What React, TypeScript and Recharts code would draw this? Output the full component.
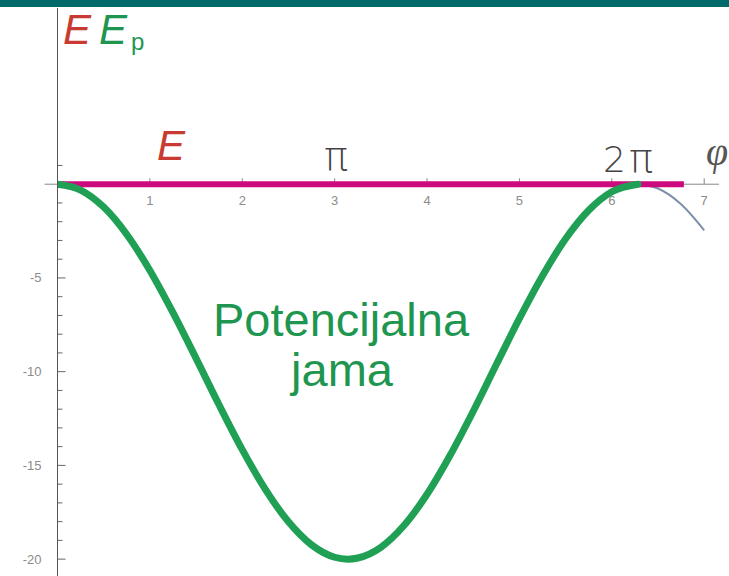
import React from "react";
import { ComposedChart, Line, XAxis, YAxis, ReferenceLine, ReferenceDot } from "recharts";

// Angle φ (radians) and the potential energy Ep along the well
const phi = [0, 0.25, 0.5, 0.75, 1.0, 1.25, 1.5, 1.75, 2.0, 2.25, 2.5, 2.75, 3.0, 3.1416, 3.25, 3.5, 3.75, 4.0, 4.25, 4.5, 4.75, 5.0, 5.25, 5.5, 5.75, 6.0, 6.2832];
const potential = [0, -0.31, -1.22, -2.68, -4.6, -6.85, -9.29, -11.78, -14.16, -16.28, -18.01, -19.24, -19.9, -20, -19.94, -19.37, -18.21, -16.54, -14.46, -12.11, -9.62, -7.16, -4.88, -2.91, -1.39, -0.4, 0];

// Continuation of the curve past 2π (thin)
const tailPhi = [6.2832, 6.5, 6.75, 7.0];
const tailValues = [0, -0.23, -1.07, -2.46];

// Total energy E (horizontal line)
const energyPhi = [0, 6.78];
const energyValues = [0, 0];

// Axis ticks
const xTicks = [1, 2, 3, 4, 5, 6, 7];
const yLabelTicks = [-20, -15, -10, -5];
const yMinorTicks = [-19, -18, -17, -16, -14, -13, -12, -11, -9, -8, -7, -6, -4, -3, -2, -1, 1];

const toPoints = (xs: number[], ys: number[]) => xs.map((x, i) => ({ x, y: ys[i] }));

const wellData = toPoints(phi, potential);
const tailData = toPoints(tailPhi, tailValues);
const energyData = toPoints(energyPhi, energyValues);

const W = 729;
const H = 576;
const GREEN = "#1fa055";
const GREEN_TEXT = "#1e9650";
const MAGENTA = "#cc0a7e";
const RED = "#c83a32";
const TICK = "#8c8c8c";
const SANS = "Liberation Sans, Arial, sans-serif";
const LIGHT = "DejaVu Sans ExtraLight, DejaVu Sans, sans-serif";

const YTick = (props: any) => {
  const { x, y, payload } = props;
  return (
    <text x={x} y={y} dy={4.5} textAnchor="end" fill={TICK} fontSize={13} fontFamily={SANS}>
      {`-${Math.abs(payload.value)}`}
    </text>
  );
};

export default function App() {
  return (
    <div style={{ position: "absolute", left: 0, top: 0, width: W, height: H, background: "#fff" }}>
      <ComposedChart width={W} height={H} margin={{ top: 8, right: 10, bottom: 0, left: 0 }}>
        <XAxis type="number" dataKey="x" domain={[0, 7.16]} allowDataOverflow hide />
        <YAxis
          type="number"
          dataKey="y"
          domain={[-20.9, 9.4]}
          allowDataOverflow
          ticks={yLabelTicks}
          width={57.5}
          tickLine={false}
          tickSize={6}
          tickMargin={10}
          axisLine={{ stroke: "#555", strokeWidth: 1 }}
          tick={<YTick />}
        />

        {/* horizontal axis through Ep = 0 */}
        <ReferenceLine
          segment={[{ x: -0.14, y: 0 }, { x: 7.16, y: 0 }]}
          stroke="#888"
          strokeWidth={1}
          ifOverflow="visible"
        />
        {xTicks.map((t) => (
          <ReferenceLine
            key={`xt${t}`}
            segment={[{ x: t, y: 0 }, { x: t, y: 0.32 }]}
            stroke="#888"
            strokeWidth={1}
            ifOverflow="visible"
          />
        ))}
        {xTicks.map((t) => (
          <ReferenceDot
            key={`xl${t}`}
            x={t}
            y={0}
            r={0}
            fill="none"
            stroke="none"
            ifOverflow="visible"
            label={{ value: String(t), position: "bottom", offset: 12, fill: TICK, stroke: "none", fontSize: 13, fontFamily: SANS }}
          />
        ))}

        {/* inward ticks on the vertical axis */}
        {yLabelTicks.map((t) => (
          <ReferenceLine
            key={`ym${t}`}
            segment={[{ x: 0, y: t }, { x: 0.087, y: t }]}
            stroke="#666"
            strokeWidth={1}
            ifOverflow="visible"
          />
        ))}
        {yMinorTicks.map((t) => (
          <ReferenceLine
            key={`yn${t}`}
            segment={[{ x: 0, y: t }, { x: 0.054, y: t }]}
            stroke="#666"
            strokeWidth={1}
            ifOverflow="visible"
          />
        ))}

        <Line
          data={tailData}
          dataKey="y"
          type="monotone"
          stroke="#7d90a8"
          strokeWidth={2}
          dot={false}
          activeDot={false}
          isAnimationActive={false}
        />
        <Line
          data={energyData}
          dataKey="y"
          type="linear"
          stroke={MAGENTA}
          strokeWidth={6}
          dot={false}
          activeDot={false}
          isAnimationActive={false}
        />
        <Line
          data={wellData}
          dataKey="y"
          type="monotone"
          stroke={GREEN}
          strokeWidth={7}
          strokeLinecap="round"
          dot={false}
          activeDot={false}
          isAnimationActive={false}
        />
      </ComposedChart>

      <svg
        width={W}
        height={H}
        style={{ position: "absolute", left: 0, top: 0, pointerEvents: "none" }}
      >
        <rect x={0} y={0} width={W} height={7} fill="#006a6a" />

        <g fontFamily={SANS}>
          <text x={63} y={44} fontSize={42} fontStyle="italic" fill={RED}>E</text>
          <text x={99} y={44} fontSize={42} fontStyle="italic" fill={GREEN_TEXT}>E</text>
          <text x={131} y={50} fontSize={24} fill={GREEN_TEXT}>p</text>

          <text x={157} y={160} fontSize={42} fontStyle="italic" fill={RED}>E</text>

          <text x={341} y={336} fontSize={47} textAnchor="middle" fill={GREEN_TEXT}>Potencijalna</text>
          <text x={342} y={386} fontSize={47} textAnchor="middle" fill={GREEN_TEXT}>jama</text>
        </g>

        <g fontFamily={LIGHT} fill="#444" fontWeight={200}>
          <text x={336} y={170} fontSize={40} textAnchor="middle">π</text>
          <text x={603} y={172} fontSize={36}>2</text>
          <text x={629} y={172} fontSize={40}>π</text>
        </g>
        <text x={706} y={165} fontSize={40} fontStyle="italic" fill="#555" fontFamily="Liberation Serif, serif">φ</text>
      </svg>
    </div>
  );
}
